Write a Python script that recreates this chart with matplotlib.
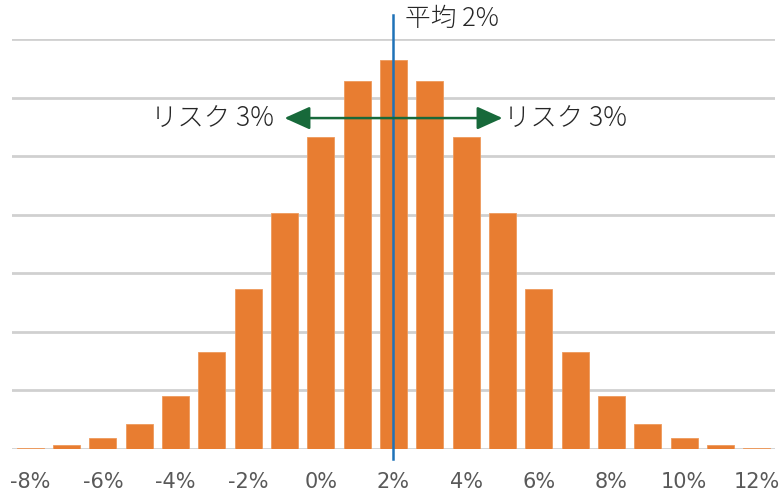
import numpy as np
import matplotlib.pyplot as plt

plt.rcParams['font.family'] = ['DejaVu Sans', 'Noto Sans CJK JP']

# リターン(%)と各階級の確率(%)
returns = [-8, -7, -6, -5, -4, -3, -2, -1, 0, 1, 2, 3, 4, 5, 6, 7, 8, 9, 10, 11, 12]
probs = [0.05, 0.15, 0.38, 0.87, 1.80, 3.32, 5.47, 8.07, 10.65, 12.58, 13.30,
         12.58, 10.65, 8.07, 5.47, 3.32, 1.80, 0.87, 0.38, 0.15, 0.05]
tick_labels = ['-8%', '-6%', '-4%', '-2%', '0%', '2%', '4%', '6%', '8%', '10%', '12%']

mean = 2
risk = 3

jp = ['Noto Sans CJK JP', 'DejaVu Sans']

fig = plt.figure(figsize=(7.81, 4.92), dpi=100)
ax = fig.add_axes([12 / 781, 43 / 492, 763 / 781, 410 / 492])

x = np.arange(len(returns))
ax.bar(x, probs, width=0.74, color='#E87D31', edgecolor='#EE9A5C', linewidth=0.6, zorder=2)

ax.set_xlim(-0.5, len(returns) - 0.5)
ax.set_ylim(0, 14)
ax.set_yticks(np.arange(0, 15, 2))
ax.yaxis.grid(True, color='#D0D0D0', linewidth=2, zorder=0)
ax.set_axisbelow(True)
ax.tick_params(axis='y', left=False, labelleft=False)

ax.set_xticks(x[::2])
ax.set_xticklabels(tick_labels, fontsize=15, color='#595959')
ax.tick_params(axis='x', bottom=False, pad=13)

for s in ax.spines.values():
    s.set_visible(False)

# 平均の縦線
i_mean = returns.index(mean)
ax.plot([i_mean, i_mean], [-0.35, 14.82], color='#1F72B8', linewidth=1.8,
        clip_on=False, zorder=3)
ax.text(i_mean + 0.33, 14.68, '平均 2%', fontsize=18.5, color='#262626',
        family=jp, weight='light', va='center', ha='left', clip_on=False)

# リスクの矢印
i_lo = returns.index(mean - risk)
i_hi = returns.index(mean + risk)
y_arr = 11.3
for i_end in (i_lo, i_hi):
    ax.annotate('', xy=(i_end, y_arr), xytext=(i_mean, y_arr),
                arrowprops=dict(arrowstyle='-|>,head_length=0.6,head_width=0.27',
                                color='#17693A', lw=1.8, mutation_scale=26,
                                shrinkA=0, shrinkB=0), zorder=4)
ax.text(i_lo - 0.3, y_arr, 'リスク 3%', fontsize=19, color='#262626',
        family=jp, weight='light', va='center', ha='right')
ax.text(i_hi + 0.05, y_arr, 'リスク 3%', fontsize=19, color='#262626',
        family=jp, weight='light', va='center', ha='left')

fig.savefig('out.png', dpi=100)
